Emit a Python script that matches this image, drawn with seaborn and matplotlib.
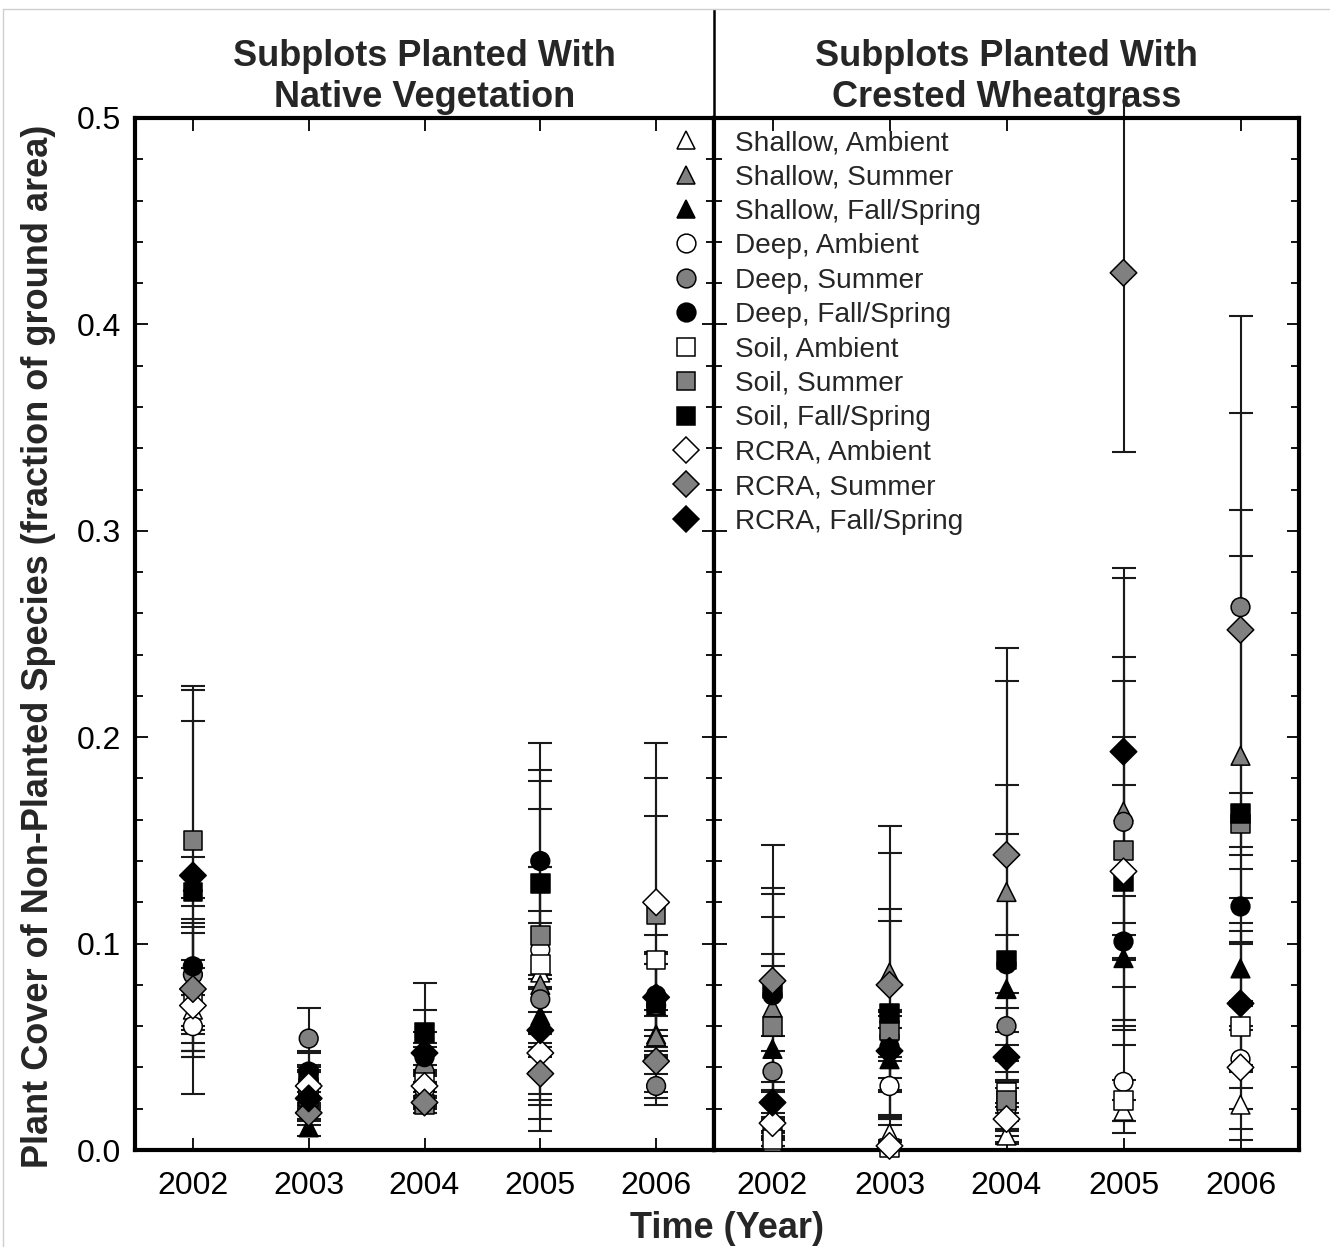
import matplotlib
matplotlib.use("Agg")
import numpy as np
import pandas as pd
import matplotlib.pyplot as plt
from matplotlib.lines import Line2D
from matplotlib.ticker import MultipleLocator, FormatStrFormatter, FixedLocator
import seaborn as sns

# ---------------------------------------------------------------- data
years = [2002, 2003, 2004, 2005, 2006]

series = [
    "Shallow, Ambient", "Shallow, Summer", "Shallow, Fall/Spring",
    "Deep, Ambient", "Deep, Summer", "Deep, Fall/Spring",
    "Soil, Ambient", "Soil, Summer", "Soil, Fall/Spring",
    "RCRA, Ambient", "RCRA, Summer", "RCRA, Fall/Spring",
]
series_marker = ["^", "^", "^", "o", "o", "o", "s", "s", "s", "D", "D", "D"]
series_fill = ["white", "#808080", "black"] * 4

# mean cover, one row per series, one column per year
native_cover = [
    [0.068, 0.028, 0.030, 0.086, 0.056],
    [0.082, 0.022, 0.028, 0.080, 0.055],
    [0.130, 0.011, 0.042, 0.065, 0.070],
    [0.060, 0.030, 0.029, 0.097, 0.070],
    [0.085, 0.054, 0.038, 0.073, 0.031],
    [0.089, 0.038, 0.045, 0.140, 0.075],
    [0.075, 0.030, 0.033, 0.090, 0.092],
    [0.150, 0.026, 0.022, 0.104, 0.114],
    [0.125, 0.035, 0.057, 0.129, 0.071],
    [0.070, 0.031, 0.031, 0.047, 0.120],
    [0.078, 0.018, 0.023, 0.037, 0.043],
    [0.133, 0.025, 0.047, 0.058, 0.074],
]
native_se = [
    [0.020, 0.010, 0.008, 0.030, 0.012],
    [0.030, 0.008, 0.008, 0.030, 0.010],
    [0.012, 0.004, 0.010, 0.020, 0.020],
    [0.015, 0.010, 0.008, 0.040, 0.020],
    [0.025, 0.015, 0.012, 0.064, 0.006],
    [0.033, 0.010, 0.012, 0.057, 0.020],
    [0.030, 0.008, 0.008, 0.075, 0.070],
    [0.075, 0.006, 0.004, 0.080, 0.066],
    [0.098, 0.012, 0.024, 0.050, 0.025],
    [0.022, 0.010, 0.008, 0.020, 0.077],
    [0.030, 0.006, 0.005, 0.015, 0.015],
    [0.075, 0.007, 0.021, 0.020, 0.030],
]

wheat_cover = [
    [0.004, 0.008, 0.007, 0.019, 0.022],
    [0.069, 0.086, 0.125, 0.164, 0.191],
    [0.049, 0.044, 0.078, 0.093, 0.088],
    [0.010, 0.031, 0.020, 0.033, 0.044],
    [0.038, 0.055, 0.060, 0.159, 0.263],
    [0.075, 0.050, 0.090, 0.101, 0.118],
    [0.005, 0.001, 0.028, 0.024, 0.060],
    [0.060, 0.058, 0.024, 0.145, 0.158],
    [0.078, 0.066, 0.092, 0.130, 0.163],
    [0.013, 0.002, 0.015, 0.135, 0.040],
    [0.082, 0.080, 0.143, 0.425, 0.252],
    [0.023, 0.048, 0.045, 0.193, 0.071],
]
wheat_se = [
    [0.002, 0.004, 0.003, 0.005, 0.017],
    [0.055, 0.071, 0.102, 0.113, 0.119],
    [0.040, 0.015, 0.075, 0.030, 0.018],
    [0.005, 0.014, 0.010, 0.025, 0.014],
    [0.010, 0.012, 0.009, 0.080, 0.141],
    [0.020, 0.015, 0.014, 0.009, 0.018],
    [0.003, 0.003, 0.010, 0.010, 0.050],
    [0.053, 0.053, 0.010, 0.082, 0.015],
    [0.049, 0.051, 0.085, 0.070, 0.125],
    [0.005, 0.003, 0.006, 0.042, 0.020],
    [0.066, 0.064, 0.100, 0.087, 0.105],
    [0.010, 0.020, 0.012, 0.089, 0.030],
]

panel_titles = ["Subplots Planted With\nNative Vegetation",
                "Subplots Planted With\nCrested Wheatgrass"]

# ---------------------------------------------------------------- style
sns.set_style("ticks")
plt.rcParams["font.family"] = ["Liberation Sans", "DejaVu Sans"]
plt.rcParams["axes.linewidth"] = 3.0

W, H = 1330, 1247
fig = plt.figure(figsize=(W / 100, H / 100), dpi=100)
fig.patch.set_facecolor("white")

left, mid, right = 135 / W, 714 / W, 1299 / W
bottom, top = (H - 1150) / H, (H - 118) / H
ax1 = fig.add_axes([left, bottom, mid - left, top - bottom])
ax2 = fig.add_axes([mid, bottom, right - mid, top - bottom])

MS = 13.5


def long_frame(cover, se):
    rows = []
    for i, name in enumerate(series):
        for j, yr in enumerate(years):
            rows.append({"series": name, "year": yr,
                         "cover": cover[i][j], "se": se[i][j]})
    return pd.DataFrame(rows)


def draw_panel(ax, cover, se, title):
    df = long_frame(cover, se)
    # error bars (clipped at the frame)
    for name in series:
        d = df[df["series"] == name]
        ax.errorbar(d["year"], d["cover"], yerr=d["se"], fmt="none",
                    ecolor="#1a1a1a", elinewidth=1.5, capsize=8.5,
                    capthick=1.5, zorder=2)
    sns.scatterplot(data=df, x="year", y="cover", hue="series",
                    style="series", hue_order=series, style_order=series,
                    palette=dict(zip(series, series_fill)),
                    markers=dict(zip(series, series_marker)),
                    s=MS ** 2, edgecolor="black", linewidth=1.1,
                    legend=False, ax=ax, zorder=3)
    for coll in ax.collections:
        coll.set_clip_on(False)

    ax.set_xlim(2001.5, 2006.5)
    ax.set_ylim(0, 0.5)
    ax.xaxis.set_major_locator(FixedLocator(years))
    ax.yaxis.set_major_locator(MultipleLocator(0.1))
    ax.yaxis.set_minor_locator(MultipleLocator(0.02))
    ax.yaxis.set_major_formatter(FormatStrFormatter("%.1f"))
    ax.tick_params(which="both", direction="in", top=True, right=True,
                   width=1.3, colors="black", labelsize=23)
    ax.tick_params(axis="x", pad=15)
    ax.tick_params(axis="y", pad=10)
    ax.tick_params(which="major", length=9)
    ax.tick_params(which="minor", length=6)
    ax.tick_params(axis="x", which="minor", top=False, bottom=False)
    for sp in ax.spines.values():
        sp.set_visible(True)
        sp.set_linewidth(3.0)
        sp.set_color("black")
    ax.set_xlabel("")
    ax.set_ylabel("")
    ax.set_title(title, fontsize=26, fontweight="bold", pad=8,
                 linespacing=1.2)


draw_panel(ax1, native_cover, native_se, panel_titles[0])
draw_panel(ax2, wheat_cover, wheat_se, panel_titles[1])
ax2.tick_params(axis="y", labelleft=False)

ax1.set_ylabel("Plant Cover of Non-Planted Species (fraction of ground area)",
               fontsize=26, fontweight="bold")
ax1.yaxis.set_label_coords(-0.137, 0.488)

fig.text(727 / W, 9 / H, "Time (Year)", fontsize=26, fontweight="bold",
         ha="center", va="baseline")

# divider between the two panels, running up past the titles
ax1.add_line(Line2D([1, 1], [1, 1.105], transform=ax1.transAxes,
                    color="black", lw=1.8, clip_on=False))

# thin frame edge at the top and left of the figure
fig.add_artist(Line2D([3 / W, 1], [1 - 9 / H, 1 - 9 / H],
                      transform=fig.transFigure, color="#cfcfcf", lw=1))
fig.add_artist(Line2D([3 / W, 3 / W], [0, 1 - 9 / H],
                      transform=fig.transFigure, color="#cfcfcf", lw=1))

# legend
handles = [Line2D([], [], marker=m, markerfacecolor=f, markeredgecolor="black",
                  markeredgewidth=1.1, linestyle="none", markersize=MS)
           for m, f in zip(series_marker, series_fill)]
fig.legend(handles, series, loc="upper left",
           bbox_to_anchor=(672 / W, 1 - 130 / H), frameon=False,
           fontsize=20.2, handlelength=1.0, handletextpad=1.25,
           labelspacing=0.30, borderpad=0, borderaxespad=0)

fig.savefig("out.png", dpi=100, facecolor="white")
